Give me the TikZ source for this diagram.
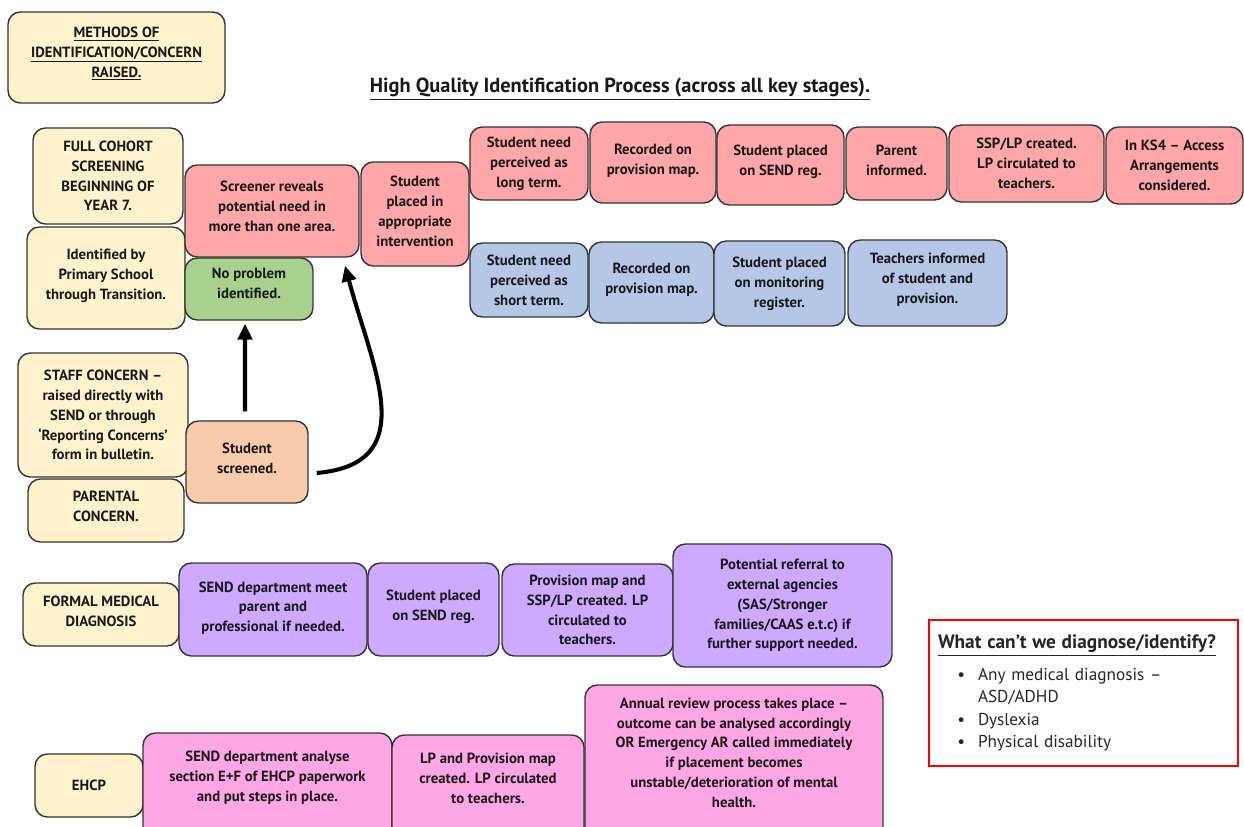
\documentclass[tikz,border=0pt]{standalone}
\usepackage{fontspec}
\setmainfont{PT Sans}
\usetikzlibrary{arrows.meta}
\definecolor{cream}{HTML}{FFF2CC}
\definecolor{rose}{HTML}{FFA6A8}
\definecolor{sky}{HTML}{B4C7E7}
\definecolor{leaf}{HTML}{A9D18E}
\definecolor{apricot}{HTML}{F8CBAD}
\definecolor{lilac}{HTML}{CDA9FF}
\definecolor{bubble}{HTML}{FFA6E4}
\begin{document}
\begin{tikzpicture}[x=0.02cm,y=-0.02cm,
  bx/.style={draw=black!80,line width=0.8pt,rounded corners=7pt,align=center,inner sep=2pt,text=black!90,font=\fontsize{8.4}{11.3}\selectfont\bfseries},
  ybox/.style={bx,fill=cream},rbox/.style={bx,fill=rose},bbox/.style={bx,fill=sky},
  gbox/.style={bx,fill=leaf},obox/.style={bx,fill=apricot},pbox/.style={bx,fill=lilac},mbox/.style={bx,fill=bubble},
  flow/.style={line width=2.3pt,-{Triangle[length=9pt,width=8pt]}}]
\clip (0,0) rectangle (1244,827);
\fill[white] (0,0) rectangle (1244,827);
% headings
\node[ybox,minimum width=4.34cm,minimum height=1.82cm] (methods) at (116.5,57.5) {\underline{METHODS OF}\\\underline{IDENTIFICATION/CONCERN}\\\underline{RAISED.}\\[-5.1pt]};
\node[text=black!90,font=\fontsize{11.6}{13}\selectfont\bfseries] (title) at (620,89) {\underline{High Quality Identification Process (across all key stages).}};
% ways in
\node[ybox,minimum width=3cm,minimum height=1.92cm] (cohort) at (108,176) {FULL COHORT\\SCREENING\\BEGINNING OF\\YEAR 7.};
\node[ybox,minimum width=3.16cm,minimum height=2.04cm] (primary) at (106,278) {Identified by\\Primary School\\through Transition.\\[-7pt]};
\node[ybox,minimum width=3.4cm,minimum height=2.48cm] (staff) at (103,415) {STAFF CONCERN --\\raised directly with\\SEND or through\\`Reporting Concerns'\\form in bulletin.};
\node[ybox,minimum width=3.12cm,minimum height=1.26cm] (parental) at (106,510.5) {PARENTAL\\CONCERN.\\[-6.8pt]};
\node[obox,minimum width=2.44cm,minimum height=1.64cm] (screened) at (247,462) {Student\\screened.\\[-6.8pt]};
\node[gbox,minimum width=2.56cm,minimum height=1.24cm] (noprob) at (249,289) {No problem\\identified.\\[-4.5pt]};
\node[rbox,minimum width=3.48cm,minimum height=1.84cm] (screener) at (272,211) {Screener reveals\\potential need in\\more than one area.\\[-5.6pt]};
\node[rbox,minimum width=2.16cm,minimum height=2.08cm] (placed) at (415,214) {Student\\placed in\\appropriate\\intervention\\[-8pt]};
% long term
\node[rbox,minimum width=2.36cm,minimum height=1.46cm] (longterm) at (529,163.5) {Student need\\perceived as\\long term.};
\node[rbox,minimum width=2.52cm,minimum height=1.62cm] (maplong) at (653,162.5) {Recorded on\\provision map.\\[-7.3pt]};
\node[rbox,minimum width=2.54cm,minimum height=1.6cm] (sendreg) at (780.5,165) {Student placed\\on SEND reg.\\[-5.7pt]};
\node[rbox,minimum width=2.02cm,minimum height=1.46cm] (parent) at (896.5,163.5) {Parent\\informed.\\[-8pt]};
\node[rbox,minimum width=3.1cm,minimum height=1.54cm] (ssplp) at (1026.5,163.5) {SSP/LP created.\\LP circulated to\\teachers.};
\node[rbox,minimum width=2.74cm,minimum height=1.54cm] (ksfour) at (1174.5,165.5) {In KS4 -- Access\\Arrangements\\considered.};
% short term
\node[bbox,minimum width=2.36cm,minimum height=1.48cm] (shortterm) at (529,280) {Student need\\perceived as\\short term.};
\node[bbox,minimum width=2.5cm,minimum height=1.62cm] (mapshort) at (651.5,282.5) {Recorded on\\provision map.\\[-6.2pt]};
\node[bbox,minimum width=2.62cm,minimum height=1.7cm] (monitor) at (779.5,283.5) {Student placed\\on monitoring\\register.};
\node[bbox,minimum width=3.18cm,minimum height=1.72cm] (informed) at (927.5,283) {Teachers informed\\of student and\\provision.\\[-5.7pt]};
% medical
\node[ybox,minimum width=3.12cm,minimum height=1.26cm] (medical) at (101,614.5) {FORMAL MEDICAL\\DIAGNOSIS\\[-8pt]};
\node[pbox,minimum width=3.76cm,minimum height=1.86cm] (meet) at (273,609.5) {SEND department meet\\parent and\\professional if needed.\\[-8pt]};
\node[pbox,minimum width=2.62cm,minimum height=1.86cm] (sendregmed) at (433.5,609.5) {Student placed\\on SEND reg.\\[-6.8pt]};
\node[pbox,minimum width=3.42cm,minimum height=1.84cm] (provmap) at (587.5,610) {Provision map and\\SSP/LP created. LP\\circulated to\\teachers.};
\node[pbox,minimum width=4.38cm,minimum height=2.46cm] (referral) at (782.5,605.5) {Potential referral to\\external agencies\\(SAS/Stronger\\families/CAAS e.t.c) if\\further support needed.};
% ehcp
\node[ybox,minimum width=2.16cm,minimum height=1.26cm] (ehcp) at (89,785.5) {EHCP};
\node[mbox,minimum width=4.98cm,minimum height=2.14cm] (analyse) at (267.5,786.5) {SEND department analyse\\section E+F of EHCP paperwork\\and put steps in place.\\};
\node[mbox,minimum width=3.84cm,minimum height=2.1cm] (lpmap) at (488,787.5) {LP and Provision map\\created. LP circulated\\to teachers.\\[-1pt]};
\node[mbox,minimum width=5.96cm,minimum height=3.1cm] (annual) at (734,762.5) {Annual review process takes place --\\outcome can be analysed accordingly\\OR Emergency AR called immediately\\if placement becomes\\unstable/deterioration of mental\\health.\\};
% arrows
\draw[flow] ([xshift=-0.04cm,yshift=0.18cm]screened.north) -- ([xshift=-0.08cm,yshift=-0.06cm]noprob.south);
\draw[flow] ([xshift=0.16cm,yshift=-0.22cm]screened.east) to[out=5,in=-75,looseness=1.3] ([xshift=1.46cm,yshift=-0.16cm]screener.south);
% cannot
\node[draw=red,line width=1.3pt,minimum width=6.18cm,minimum height=2.92cm,text width=5.82cm,align=left,text=black!85,font=\fontsize{9.8}{12.8}\selectfont] (cannot) at (1083.5,693)
 {\underline{\fontsize{11}{13}\selectfont\bfseries What can't we diagnose/identify?}\\[5pt]
  \hspace*{0.8cm}\llap{\textbullet\hspace{0.26cm}}Any medical diagnosis --\\
  \hspace*{0.8cm}ASD/ADHD\\
  \hspace*{0.8cm}\llap{\textbullet\hspace{0.26cm}}Dyslexia\\
  \hspace*{0.8cm}\llap{\textbullet\hspace{0.26cm}}Physical disability};
\end{tikzpicture}
\end{document}
